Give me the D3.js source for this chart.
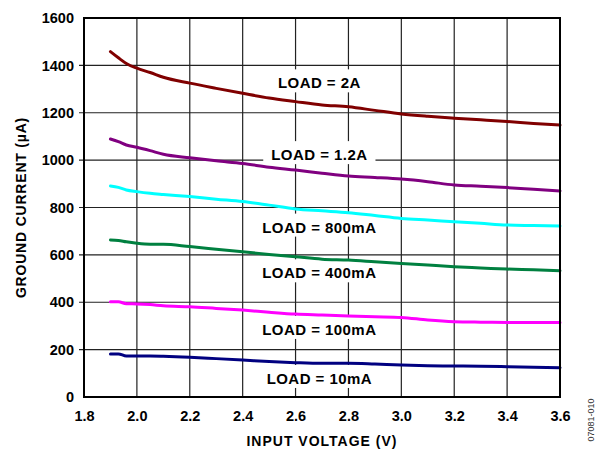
<!DOCTYPE html>
<html>
<head>
<meta charset="utf-8">
<script src="https://cdn.jsdelivr.net/npm/d3@7"></script>
<style>
  body { margin: 0; background: #fff; }
  text { font-family: "Liberation Sans", Arial, Helvetica, sans-serif; }
</style>
</head>
<body>
<svg id="chart" width="608" height="452"></svg>
<script>
// input voltage (V) sample points, shared by every curve
var voltage = [1.9, 1.93, 1.96, 2.0, 2.05, 2.1, 2.2, 2.3, 2.4, 2.5, 2.6, 2.7, 2.8, 2.9, 3.0, 3.1, 3.2, 3.3, 3.4, 3.5, 3.6];

// ground current (uA) for each load
var load2A    = [1458, 1432, 1408, 1388, 1370, 1350, 1325, 1303, 1282, 1262, 1247, 1233, 1225, 1210, 1195, 1185, 1177, 1170, 1163, 1155, 1148];
var load1200  = [1089, 1078, 1064, 1054, 1040, 1025, 1010, 997, 986, 970, 958, 945, 933, 927, 920, 909, 895, 890, 884, 877, 870];
var load800   = [891, 885, 874, 867, 860, 855, 846, 835, 825, 810, 794, 786, 778, 766, 754, 747, 740, 733, 726, 724, 722];
var load400   = [663, 661, 655, 649, 645, 645, 635, 624, 613, 602, 592, 582, 578, 571, 564, 557, 550, 545, 540, 537, 533];
var load100   = [402, 402, 394, 393, 390, 385, 381, 374, 367, 358, 350, 346, 342, 339, 336, 325, 318, 316, 315, 315, 315];
var load10    = [182, 182, 173, 173, 173, 172, 168, 162, 156, 150, 145, 142, 142, 139, 135, 132, 131, 130, 128, 126, 124];

var seriesNames  = ['LOAD = 2A', 'LOAD = 1.2A', 'LOAD = 800mA', 'LOAD = 400mA', 'LOAD = 100mA', 'LOAD = 10mA'];
var seriesValues = [load2A, load1200, load800, load400, load100, load10];
var seriesColors = ['#800000', '#800080', '#00ffff', '#008040', '#ff00ff', '#000080'];

// label anchor points (V, uA) - text baseline, centred
var labelX = [2.69, 2.69, 2.69, 2.69, 2.69, 2.69];
var labelY = [1303, 1000, 694, 501, 262, 55];

var xTicks = [1.8, 2.0, 2.2, 2.4, 2.6, 2.8, 3.0, 3.2, 3.4, 3.6];
var yTicks = [0, 200, 400, 600, 800, 1000, 1200, 1400, 1600];

var plotLeft = 84, plotRight = 560, plotTop = 18, plotBottom = 397;
var svg = d3.select('#chart');

var x = d3.scaleLinear().domain([1.8, 3.6]).range([plotLeft, plotRight]);
var y = d3.scaleLinear().domain([0, 1600]).range([plotBottom, plotTop]);

// grid
svg.append('g')
    .selectAll('line')
    .data(xTicks.slice(1, -1))
    .enter().append('line')
    .attr('x1', function(d){ return x(d); })
    .attr('x2', function(d){ return x(d); })
    .attr('y1', plotTop).attr('y2', plotBottom)
    .style('stroke', '#222').style('stroke-width', 1.2);
svg.append('g')
    .selectAll('line')
    .data(yTicks.slice(1, -1))
    .enter().append('line')
    .attr('x1', plotLeft - 5).attr('x2', plotRight)
    .attr('y1', function(d){ return y(d); })
    .attr('y2', function(d){ return y(d); })
    .style('stroke', '#222').style('stroke-width', 1.2);

// white boxes behind the labels (they break the grid)
var labelGroup = svg.append('g');
for (var i = 0; i < seriesNames.length; i++) {
    var box = labelGroup.append('rect').style('fill', '#fff');
    var t = labelGroup.append('text')
        .attr('x', x(labelX[i]))
        .attr('y', y(labelY[i]))
        .attr('text-anchor', 'middle')
        .style('font-size', '15px')
        .style('font-weight', 'bold')
        .style('letter-spacing', '0.45px')
        .text(seriesNames[i]);
    var bb = t.node().getBBox();
    box.attr('x', bb.x - 8).attr('y', bb.y - 5)
       .attr('width', bb.width + 16).attr('height', bb.height + 6);
}

// curves
var line = d3.line()
    .x(function(d){ return x(d[0]); })
    .y(function(d){ return y(d[1]); })
    .curve(d3.curveMonotoneX);

for (var s = 0; s < seriesValues.length; s++) {
    var pts = voltage.map(function(v, k){ return [v, seriesValues[s][k]]; });
    svg.append('path')
        .attr('d', line(pts))
        .style('fill', 'none')
        .style('stroke', seriesColors[s])
        .style('stroke-width', 3)
        .style('stroke-linejoin', 'round')
        .style('stroke-linecap', 'round');
}

// frame
svg.append('rect')
    .attr('x', plotLeft).attr('y', plotTop)
    .attr('width', plotRight - plotLeft).attr('height', plotBottom - plotTop)
    .style('fill', 'none').style('stroke', '#000').style('stroke-width', 2);

// axes (labels only, the frame is drawn above)
var xAxis = d3.axisBottom(x).tickValues(xTicks).tickFormat(d3.format('.1f')).tickSize(0).tickPadding(14);
var yAxis = d3.axisLeft(y).tickValues(yTicks).tickFormat(d3.format('d')).tickSize(0).tickPadding(10);

svg.append('g').attr('transform', 'translate(0,' + plotBottom + ')').call(xAxis)
    .call(function(g){ g.select('.domain').remove(); })
    .selectAll('text')
    .style('font-size', '14.5px').style('font-weight', 'bold').style('fill', '#000')
    .style('font-family', '"Liberation Sans", Arial, sans-serif');
svg.append('g').attr('transform', 'translate(' + plotLeft + ',0)').call(yAxis)
    .call(function(g){ g.select('.domain').remove(); })
    .selectAll('text')
    .style('font-size', '14.5px').style('font-weight', 'bold').style('fill', '#000')
    .style('font-family', '"Liberation Sans", Arial, sans-serif');

// titles
svg.append('text')
    .attr('x', (plotLeft + plotRight) / 2).attr('y', 446)
    .attr('text-anchor', 'middle')
    .style('font-size', '14px').style('font-weight', 'bold')
    .style('letter-spacing', '1px')
    .text('INPUT VOLTAGE (V)');
svg.append('text')
    .attr('transform', 'translate(26,' + ((plotTop + plotBottom) / 2) + ') rotate(-90)')
    .attr('text-anchor', 'middle')
    .style('font-size', '14px').style('font-weight', 'bold')
    .style('letter-spacing', '0.8px')
    .text('GROUND CURRENT (\u00b5A)');

svg.append('text')
    .attr('transform', 'translate(594,420) rotate(-90)')
    .attr('text-anchor', 'middle')
    .style('font-size', '9px').style('fill', '#333')
    .text('07081-010');
</script>
</body>
</html>
